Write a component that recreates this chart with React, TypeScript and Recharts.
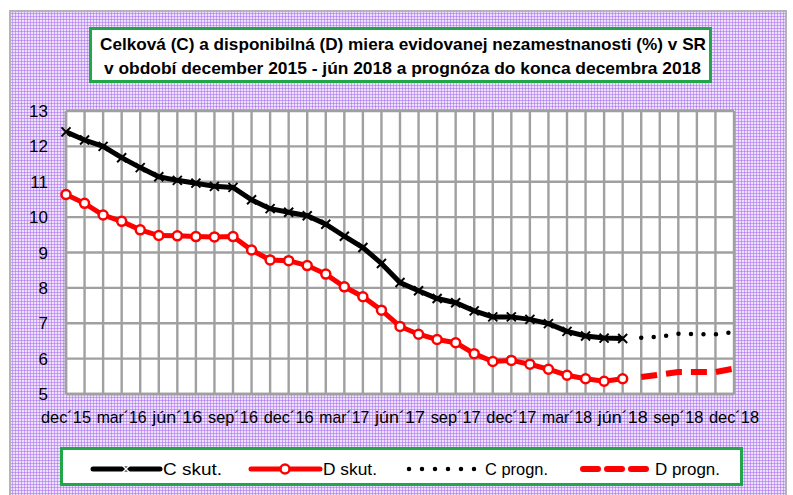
import { LineChart, Line, XAxis, YAxis, CartesianGrid } from 'recharts'

// mesiace dec 2015 - dec 2018
const months = [
  'dec´15', 'jan´16', 'feb´16', 'mar´16', 'apr´16', 'máj´16', 'jún´16', 'júl´16', 'aug´16', 'sep´16', 'okt´16', 'nov´16',
  'dec´16', 'jan´17', 'feb´17', 'mar´17', 'apr´17', 'máj´17', 'jún´17', 'júl´17', 'aug´17', 'sep´17', 'okt´17', 'nov´17',
  'dec´17', 'jan´18', 'feb´18', 'mar´18', 'apr´18', 'máj´18', 'jún´18', 'júl´18', 'aug´18', 'sep´18', 'okt´18', 'nov´18',
  'dec´18'
]

const cSkut = [
  12.41, 12.18, 12.0, 11.68, 11.4, 11.14, 11.04, 10.96, 10.87, 10.84, 10.49, 10.24, 10.14, 10.04, 9.8, 9.46,
  9.14, 8.69, 8.15, 7.92, 7.7, 7.58, 7.35, 7.18, 7.18, 7.11, 6.99, 6.77, 6.64, 6.58, 6.57
]
const dSkut = [
  10.64, 10.39, 10.06, 9.88, 9.64, 9.48, 9.47, 9.45, 9.44, 9.45, 9.07, 8.79, 8.77, 8.63, 8.39, 8.03,
  7.75, 7.37, 6.91, 6.69, 6.54, 6.45, 6.14, 5.92, 5.95, 5.84, 5.7, 5.53, 5.43, 5.36, 5.43
]
// prognóza júl - dec 2018
const cProgn = [6.59, 6.62, 6.7, 6.69, 6.69, 6.75]
const dProgn = [5.48, 5.55, 5.62, 5.62, 5.62, 5.72]

const yTicks = [5, 6, 7, 8, 9, 10, 11, 12, 13]

const data = months.map((m, i) => ({
  month: m,
  cSkut: i < cSkut.length ? cSkut[i] : null,
  dSkut: i < dSkut.length ? dSkut[i] : null,
  cProgn: i >= cSkut.length ? cProgn[i - cSkut.length] : null,
  dProgn: i >= dSkut.length ? dProgn[i - dSkut.length] : null
}))

const font = "'Liberation Sans', Arial, sans-serif"
const grid = '#a0a0a0'
const green = '#22a64a'

const CrossDot = (props: any) => {
  const { cx, cy, index } = props
  if (cx == null || cy == null) return <g key={index} />
  const s = 4.5
  return (
    <g key={index}>
      <path d={`M${cx - s},${cy - s}L${cx + s},${cy + s}M${cx - s},${cy + s}L${cx + s},${cy - s}`} stroke="#000" strokeWidth={2} />
    </g>
  )
}

const MonthTick = (props: any) => {
  const { x, y, payload, index } = props
  if (index % 3 !== 0) return <g />
  return (
    <text x={x} y={y + 17} textAnchor="middle" fontSize={17} fill="#000" fontFamily={font} textLength={50} lengthAdjust="spacingAndGlyphs">
      {payload.value}
    </text>
  )
}

const LegendBox = () => {
  const label = (x: number, w: number, t: string) => (
    <text x={x} y={25} fontSize={17} fill="#000" fontFamily={font} textLength={w} lengthAdjust="spacingAndGlyphs">{t}</text>
  )
  return (
    <div style={{ position: 'absolute', left: 60, top: 447, width: 683, height: 39, boxSizing: 'border-box', border: `3px solid ${green}`, background: '#fff' }}>
      <svg width={677} height={33} style={{ position: 'absolute', left: 0, top: 0 }}>
        <line x1={30} y1={19} x2={97} y2={19} stroke="#000" strokeWidth={5} strokeLinecap="round" />
        <path d="M59,15L67,23M59,23L67,15" stroke="#fff" strokeWidth={1.5} />
        {label(100, 59, 'C skut.')}
        <line x1={188} y1={19} x2={257} y2={19} stroke="#ff0000" strokeWidth={5} strokeLinecap="round" />
        <circle cx={222} cy={19} r={4.5} fill="#fff" stroke="#ff0000" strokeWidth={2.5} />
        {label(260, 54, 'D skut.')}
        <line x1={346} y1={19} x2={412} y2={19} stroke="#000" strokeWidth={4.5} strokeDasharray="0 13" strokeLinecap="round" />
        {label(422, 63, 'C progn.')}
        <line x1={520} y1={19} x2={584} y2={19} stroke="#ff0000" strokeWidth={6} strokeDasharray="15 9" strokeLinecap="round" />
        {label(592, 65, 'D progn.')}
      </svg>
    </div>
  )
}

export default function App () {
  return (
    <div style={{ position: 'absolute', left: 0, top: 0, width: 793, height: 495, background: '#fff', overflow: 'hidden' }}>
      <div
        style={{
          position: 'absolute', left: 9, top: 10, width: 778, height: 490, boxSizing: 'border-box',
          border: '2px solid #b4b4b4',
          backgroundColor: '#ede0fc',
          backgroundImage: 'radial-gradient(#b584f0 0.9px, transparent 1.2px)',
          backgroundSize: '3px 3px'
        }}
      />
      <div style={{ position: 'absolute', left: 89, top: 27, width: 623, height: 56, boxSizing: 'border-box', border: `3px solid ${green}`, background: '#fff' }}>
        <svg width={617} height={50} style={{ position: 'absolute', left: 0, top: 0 }}>
          <text x={8} y={20} textLength={606} lengthAdjust="spacingAndGlyphs" fontFamily={font} fontWeight="bold" fontSize={17} fill="#000">
            Celková (C) a disponibilná (D) miera evidovanej nezamestnanosti (%) v SR
          </text>
          <text x={12} y={44} textLength={597} lengthAdjust="spacingAndGlyphs" fontFamily={font} fontWeight="bold" fontSize={17} fill="#000">
            v období december 2015 - jún 2018 a prognóza do konca decembra 2018
          </text>
        </svg>
      </div>
      <div style={{ position: 'absolute', left: 0, top: 0 }}>
        <LineChart width={793} height={495} data={data} margin={{ top: 111, right: 59, bottom: 71, left: 0 }} style={{ fontFamily: font }}>
          <CartesianGrid stroke={grid} strokeWidth={2.4} fill="#fff" fillOpacity={1} />
          <XAxis
            dataKey="month"
            interval={0}
            tickLine={false}
            axisLine={{ stroke: grid, strokeWidth: 2.4 }}
            tick={MonthTick}
            tickSize={0}
            tickMargin={12}
            height={30}
          />
          <YAxis
            domain={[5, 13]}
            ticks={yTicks}
            interval={0}
            tickLine={false}
            axisLine={{ stroke: grid, strokeWidth: 2.4 }}
            tick={{ fill: '#000', fontSize: 17 }}
            tickSize={0}
            tickMargin={18}
            width={66}
          />
          <Line dataKey="cSkut" stroke="#000" strokeWidth={5} dot={CrossDot} activeDot={false} isAnimationActive={false} />
          <Line dataKey="dSkut" stroke="#ff0000" strokeWidth={5} dot={{ r: 4.5, fill: '#fff', stroke: '#ff0000', strokeWidth: 2.5 }} activeDot={false} isAnimationActive={false} />
          <Line dataKey="cProgn" stroke="#000" strokeWidth={4.5} strokeDasharray="0 12.5" strokeLinecap="round" dot={false} activeDot={false} isAnimationActive={false} />
          <Line dataKey="dProgn" stroke="#ff0000" strokeWidth={6} strokeDasharray="16 9" dot={false} activeDot={false} isAnimationActive={false} />
        </LineChart>
      </div>
      <LegendBox />
    </div>
  )
}
